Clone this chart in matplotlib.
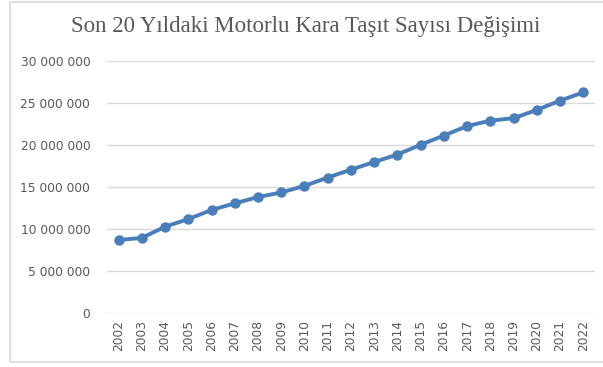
import matplotlib.pyplot as plt
from matplotlib.patches import Rectangle
from matplotlib.ticker import FuncFormatter

# Yillara gore motorlu kara tasiti sayisi
yillar = [str(y) for y in range(2002, 2023)]
tasit_sayisi = [8655170, 8903843, 10236357, 11145826, 12227393, 13022945,
                13765395, 14316700, 15095603, 16089528, 17033413, 17939447,
                18828721, 19994472, 21090424, 22218945, 22865921, 23156975,
                24144857, 25249119, 26229047]
y_ticks = [0, 5000000, 10000000, 15000000, 20000000, 25000000, 30000000]

gri = '#595959'
mavi = '#4a7ebb'

fig = plt.figure(figsize=(6.03, 3.67), dpi=100)
ax = fig.add_axes([0.1774, 0.148, 0.8093, 0.6866])

x = list(range(len(yillar)))
ax.plot(x, tasit_sayisi, color=mavi, linewidth=2.8, marker='o', markersize=6.5, zorder=3)

ax.set_xlim(-0.5, len(yillar) - 0.5)
ax.set_ylim(0, 30000000)
ax.set_yticks(y_ticks)
ax.yaxis.set_major_formatter(FuncFormatter(lambda v, p: f'{int(v):,}'.replace(',', ' ')))
ax.set_xticks(x)
ax.set_xticklabels(yillar, rotation=90)

ax.grid(axis='y', color='#d9d9d9', linewidth=1)
ax.set_axisbelow(True)
for s in ax.spines.values():
    s.set_visible(False)
ax.tick_params(axis='both', length=0, colors=gri, labelsize=8.8)
ax.tick_params(axis='y', pad=12)
ax.tick_params(axis='x', pad=5)

fig.text(0.507, 0.928, 'Son 20 Yıldaki Motorlu Kara Taşıt Sayısı Değişimi',
         ha='center', va='center', fontsize=16.5, color=gri, family='Liberation Serif')

# grafik cercevesi
fig.patches.append(Rectangle((10 / 603, 5 / 367), 600 / 603, 360 / 367,
                             transform=fig.transFigure, fill=False,
                             edgecolor='#d9d9d9', linewidth=1.2))

fig.savefig('out.png', dpi=100)
